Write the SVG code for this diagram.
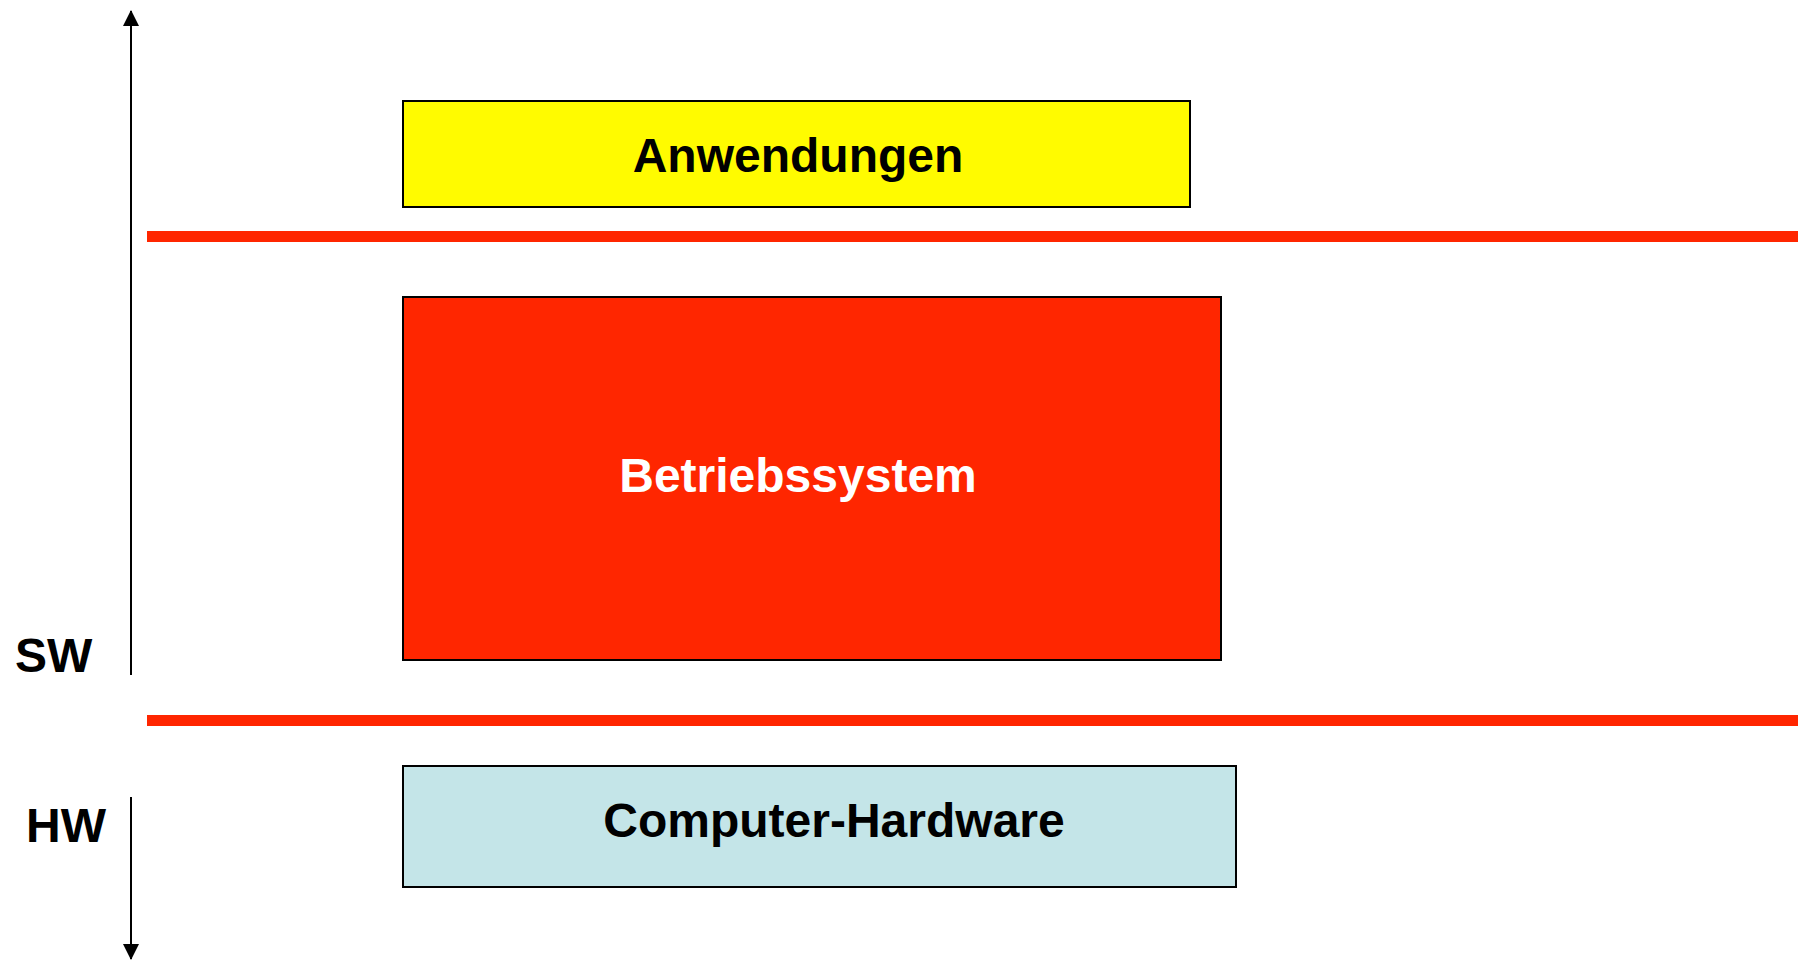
<svg xmlns="http://www.w3.org/2000/svg" width="1798" height="960" viewBox="0 0 1798 960">
  <style>
    .box { stroke: #000; stroke-width: 2; }
    .label { font-family: "Liberation Sans", Arial, sans-serif; font-weight: bold; font-size: 48px; text-anchor: middle; }
    .side { font-family: "Liberation Sans", Arial, sans-serif; font-weight: bold; font-size: 48px; }
    .axis { stroke: #000; stroke-width: 2; fill: none; }
    .divider { stroke: #FF2600; stroke-width: 11; }
  </style>
  <defs>
    <marker id="head" viewBox="0 0 16 16" refX="15" refY="8" markerWidth="16" markerHeight="16" markerUnits="userSpaceOnUse" orient="auto">
      <path d="M0,0 L16,8 L0,16 Z" fill="#000"/>
    </marker>
  </defs>

  <rect width="1798" height="960" fill="#fff"/>

  <g id="connectors">
    <line class="axis" x1="131" y1="675" x2="131" y2="11" marker-end="url(#head)"/>
    <line class="axis" x1="131" y1="797" x2="131" y2="959" marker-end="url(#head)"/>
    <line class="divider" x1="147" y1="236.5" x2="1798" y2="236.5"/>
    <line class="divider" x1="147" y1="720.5" x2="1798" y2="720.5"/>
  </g>

  <g id="anwendungen">
    <rect class="box" x="403" y="101" width="787" height="106" fill="#FFFB00"/>
    <text class="label" x="798" y="172" fill="#000">Anwendungen</text>
  </g>

  <g id="betriebssystem">
    <rect class="box" x="403" y="297" width="818" height="363" fill="#FF2600"/>
    <text class="label" x="798" y="492" fill="#fff">Betriebssystem</text>
  </g>

  <g id="hardware">
    <rect class="box" x="403" y="766" width="833" height="121" fill="#C4E5E8"/>
    <text class="label" x="834" y="837" fill="#000">Computer-Hardware</text>
  </g>

  <g id="sw-label">
    <text class="side" x="15" y="672">SW</text>
  </g>
  <g id="hw-label">
    <text class="side" x="26" y="842">HW</text>
  </g>
</svg>
